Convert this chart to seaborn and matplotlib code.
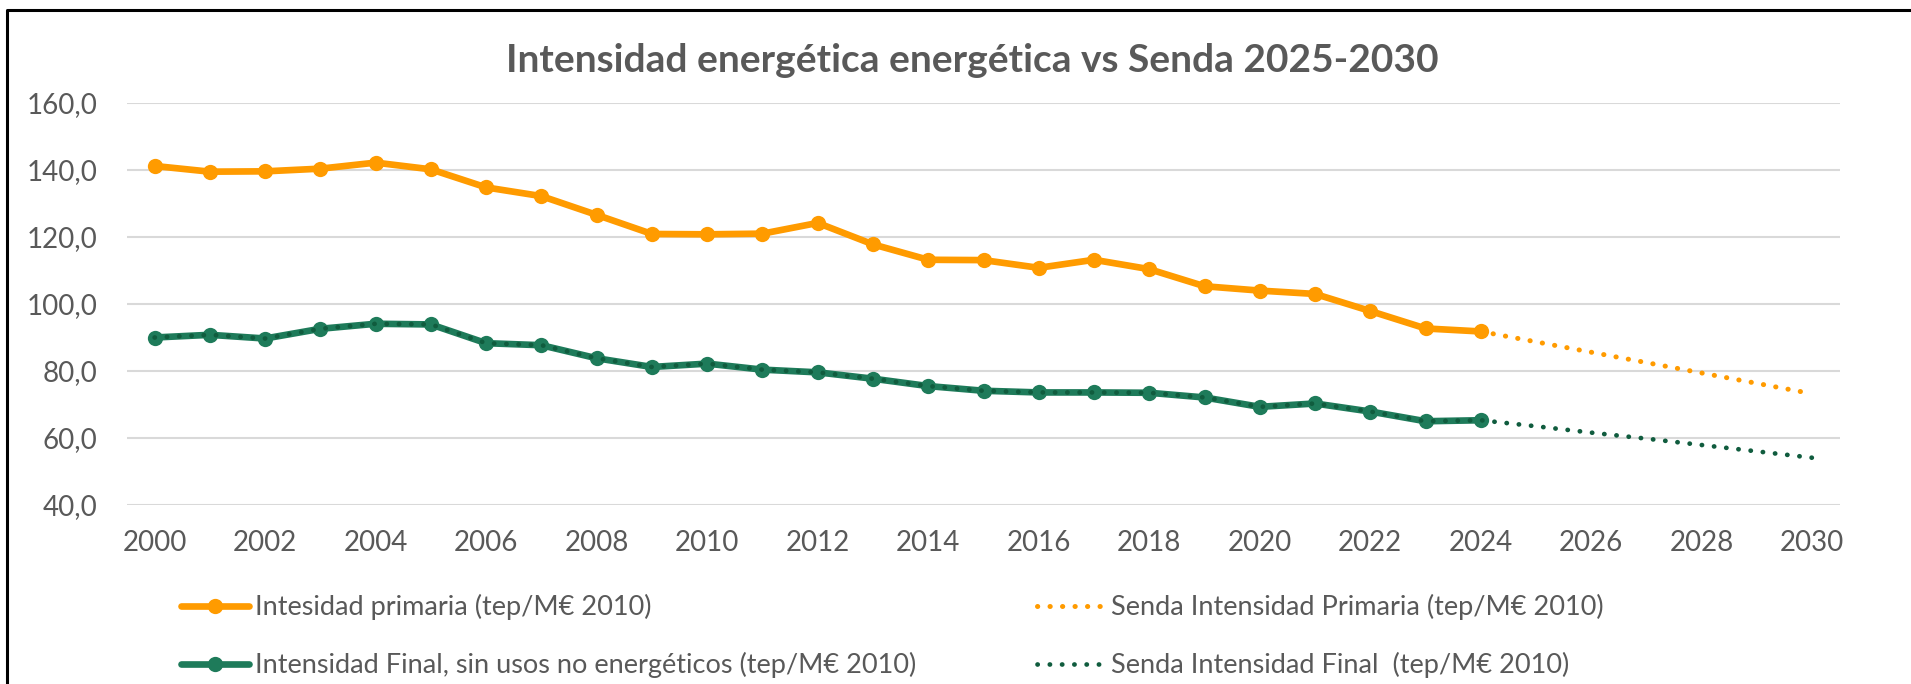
import numpy as np
import pandas as pd
import matplotlib
matplotlib.use("Agg")
import matplotlib.pyplot as plt
import seaborn as sns
from matplotlib.lines import Line2D

# Datos
anios = list(range(2000, 2025))
primaria = [141.2, 139.5, 139.6, 140.4, 142.2, 140.2, 134.8, 132.2, 126.6, 120.9,
            120.8, 121.0, 124.2, 117.8, 113.2, 113.1, 110.8, 113.2, 110.4, 105.3,
            104.0, 103.0, 97.9, 92.7, 91.8]
final = [90.0, 90.8, 89.7, 92.6, 94.1, 93.9, 88.3, 87.7, 83.8, 81.2,
         82.2, 80.4, 79.6, 77.7, 75.5, 74.1, 73.6, 73.6, 73.5, 72.1,
         69.3, 70.3, 67.9, 65.0, 65.3]
anios_senda = list(range(2024, 2031))
senda_primaria = [91.8, 88.7, 85.6, 82.5, 79.4, 76.3, 73.2]
senda_final_proy = [65.3, 63.5, 61.6, 59.8, 57.9, 56.0, 54.1]

anios_senda_final = anios + anios_senda[1:]
senda_final = final + senda_final_proy[1:]

lbl_primaria = "Intesidad primaria (tep/M€ 2010)"
lbl_final = "Intensidad Final, sin usos no energéticos (tep/M€ 2010)"
lbl_senda_p = "Senda Intensidad Primaria (tep/M€ 2010)"
lbl_senda_f = "Senda Intensidad Final  (tep/M€ 2010)"
titulo = "Intensidad energética energética vs Senda 2025-2030"

naranja = "#FF9B00"
verde = "#1E7B5A"
verde_osc = "#105C3E"
gris = "#595959"

sns.set_style("white")
plt.rcParams["font.family"] = ["Lato", "DejaVu Sans"]

W, H = 1911, 684
fig = plt.figure(figsize=(W / 100, H / 100), dpi=100)
ax = fig.add_axes([127 / W, 1 - 505 / H, (1840 - 127) / W, (505 - 103) / H])

sns.lineplot(x=anios, y=primaria, ax=ax, color=naranja, lw=4.8, marker="o",
             markersize=11, markeredgewidth=0, label=lbl_primaria)
sns.lineplot(x=anios, y=final, ax=ax, color=verde, lw=4.8, marker="o",
             markersize=11, markeredgewidth=0, label=lbl_final)
sns.lineplot(x=anios_senda, y=senda_primaria, ax=ax, color=naranja, lw=3.6,
             linestyle=(0, (0.05, 2.45)), dash_capstyle="round", label=lbl_senda_p)
sns.lineplot(x=anios_senda_final, y=senda_final, ax=ax, color=verde_osc, lw=3.4,
             linestyle=(0, (0.05, 2.55)), dash_capstyle="round", label=lbl_senda_f)

ax.set_xlim(1999.5, 2030.5)
ax.set_ylim(40, 160)
ax.set_xticks(range(2000, 2031, 2))
ax.set_yticks(range(40, 161, 20))
ax.set_yticklabels([f"{v},0" for v in range(40, 161, 20)])
ax.grid(axis="y", color="#D9D9D9", lw=1.5)
ax.grid(axis="x", visible=False)
ax.set_axisbelow(True)
for s in ax.spines.values():
    s.set_visible(False)
ax.tick_params(axis="both", length=0, labelsize=20, labelcolor=gris)
ax.tick_params(axis="y", pad=21.5)
ax.tick_params(axis="x", pad=18)
ax.set_xlabel("")
ax.set_ylabel("")

h, l = ax.get_legend_handles_labels()
ax.get_legend().remove()
kw = dict(frameon=False, loc="upper left", fontsize=19.5, labelcolor=gris,
          handlelength=2.5, handletextpad=0.25, labelspacing=1.18,
          borderpad=0, borderaxespad=0)
fig.legend(h[:2], l[:2], bbox_to_anchor=(181 / W, 1 - 594 / H), **kw)
fig.legend(h[2:], l[2:], bbox_to_anchor=(1037 / W, 1 - 594 / H), **kw)

fig.text(972 / W, 1 - 72 / H, titulo, ha="center", va="baseline",
         fontsize=28, fontweight="bold", color=gris)

# borde del area del grafico (recortado a derecha y abajo)
fig.add_artist(Line2D([7 / W, 7 / W, 1.0], [0.0, 1 - 10 / H, 1 - 10 / H],
                      transform=fig.transFigure, color="black", lw=2.2))

fig.savefig("out.png", dpi=100)
